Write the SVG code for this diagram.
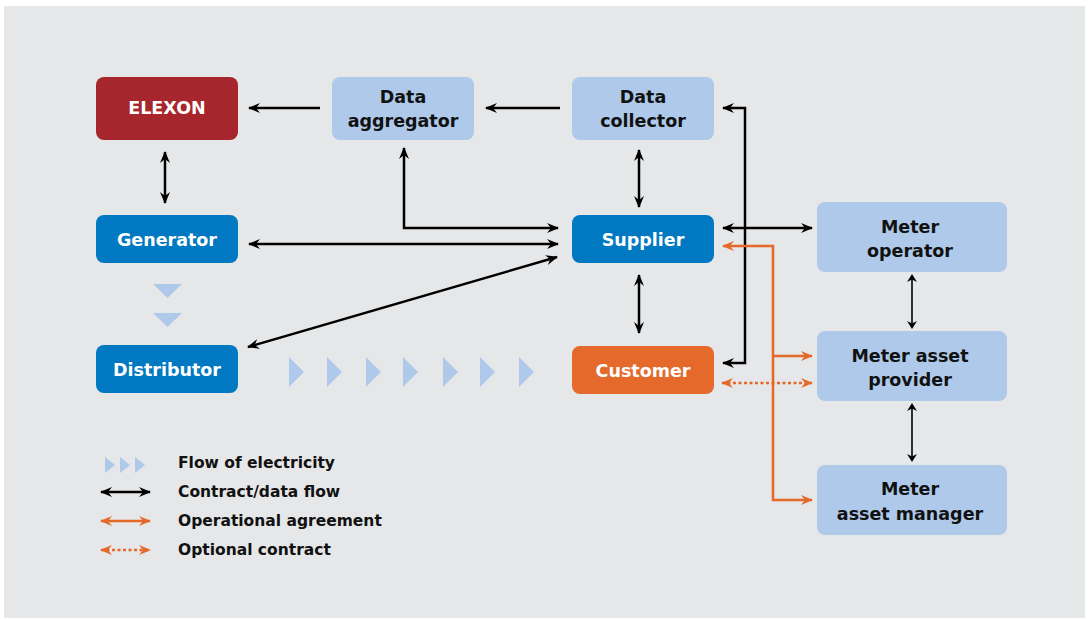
<svg xmlns="http://www.w3.org/2000/svg" width="1089" height="619" viewBox="0 0 1089 619">
<style>
.t{font-family:"DejaVu Sans",Verdana,sans-serif;font-weight:bold;font-size:17.5px;text-anchor:middle}
.w{fill:#ffffff}
.k{fill:#111111}
.lg{font-family:"DejaVu Sans",Verdana,sans-serif;font-weight:bold;font-size:15.5px;fill:#111111}
.blk{fill:none;stroke:#000;stroke-width:2.5}
.thin{fill:none;stroke:#000;stroke-width:1.6}
.org{fill:none;stroke:#e4692a;stroke-width:2.5}
.dot{fill:none;stroke:#e4692a;stroke-width:2.5;stroke-dasharray:3 2.5}
.flow{fill:#aec9ea}
</style>
<defs>
<marker id="ak" viewBox="0 0 12 10" refX="11" refY="5" markerWidth="12" markerHeight="10" markerUnits="userSpaceOnUse" orient="auto-start-reverse"><path d="M0,0 L12,5 L0,10 L4,5 z" fill="#000"/></marker>
<marker id="aks" viewBox="0 0 8 10" refX="4" refY="5" markerWidth="8" markerHeight="10" markerUnits="userSpaceOnUse" orient="auto-start-reverse"><path d="M0,0 L8,5 L0,10 L2.5,5 z" fill="#000"/></marker>
<marker id="ao" viewBox="0 0 12 10" refX="11" refY="5" markerWidth="12" markerHeight="10" markerUnits="userSpaceOnUse" orient="auto-start-reverse"><path d="M0,0 L12,5 L0,10 L4,5 z" fill="#e4692a"/></marker>
</defs>
<rect x="4" y="6" width="1081" height="612" fill="#e6e7e8"/>

<g id="flow">
<polygon class="flow" points="153,284 182,284 167.5,298"/>
<polygon class="flow" points="153,313 182,313 167.5,327"/>
<polygon class="flow" points="289,357 304,372 289,387"/>
<polygon class="flow" points="327,357 342,372 327,387"/>
<polygon class="flow" points="366,357 381,372 366,387"/>
<polygon class="flow" points="403,357 418,372 403,387"/>
<polygon class="flow" points="443,357 458,372 443,387"/>
<polygon class="flow" points="480,357 495,372 480,387"/>
<polygon class="flow" points="519,357 534,372 519,387"/>
</g>

<g id="connectors">
<line class="blk" x1="320" y1="108" x2="249" y2="108" marker-end="url(#ak)"/>
<line class="blk" x1="560" y1="108" x2="486" y2="108" marker-end="url(#ak)"/>
<line class="blk" x1="165" y1="152" x2="165" y2="203" marker-start="url(#ak)" marker-end="url(#ak)"/>
<line class="blk" x1="639" y1="150" x2="639" y2="207" marker-start="url(#ak)" marker-end="url(#ak)"/>
<line class="blk" x1="639" y1="275" x2="639" y2="333" marker-start="url(#ak)" marker-end="url(#ak)"/>
<polyline class="blk" points="404,148 404,228 558,228" marker-start="url(#ak)" marker-end="url(#ak)"/>
<line class="blk" x1="249" y1="244" x2="558" y2="244" marker-start="url(#ak)" marker-end="url(#ak)"/>
<line class="blk" x1="557" y1="257" x2="248" y2="347" marker-start="url(#ak)" marker-end="url(#ak)"/>
<polyline class="blk" points="723,108 745,108 745,363 723,363" marker-start="url(#ak)" marker-end="url(#ak)"/>
<line class="blk" x1="723" y1="228" x2="812" y2="228" marker-start="url(#ak)" marker-end="url(#ak)"/>
<polyline class="org" points="723,246 773,246 773,500 812,500" marker-start="url(#ao)" marker-end="url(#ao)"/>
<line class="org" x1="773" y1="356" x2="812" y2="356" marker-end="url(#ao)"/>
<line class="dot" x1="722" y1="383" x2="812" y2="383" marker-start="url(#ao)" marker-end="url(#ao)"/>
<line class="thin" x1="912" y1="278" x2="912" y2="325" marker-start="url(#aks)" marker-end="url(#aks)"/>
<line class="thin" x1="912" y1="407" x2="912" y2="458" marker-start="url(#aks)" marker-end="url(#aks)"/>
</g>

<g id="elexon"><rect x="96" y="77" width="142" height="63" rx="8" fill="#a7262d"/><text class="t w" x="167" y="114">ELEXON</text></g>
<g id="data-aggregator"><rect x="332" y="77" width="142" height="63" rx="8" fill="#aec9ea"/><text class="t k" x="403" y="103">Data</text><text class="t k" x="403" y="127">aggregator</text></g>
<g id="data-collector"><rect x="572" y="77" width="142" height="63" rx="8" fill="#aec9ea"/><text class="t k" x="643" y="103">Data</text><text class="t k" x="643" y="127">collector</text></g>
<g id="generator"><rect x="96" y="215" width="142" height="48" rx="8" fill="#0079c2"/><text class="t w" x="167" y="246">Generator</text></g>
<g id="supplier"><rect x="572" y="215" width="142" height="48" rx="8" fill="#0079c2"/><text class="t w" x="643" y="246">Supplier</text></g>
<g id="distributor"><rect x="96" y="345" width="142" height="48" rx="8" fill="#0079c2"/><text class="t w" x="167" y="376">Distributor</text></g>
<g id="customer"><rect x="572" y="346" width="142" height="48" rx="8" fill="#e4692a"/><text class="t w" x="643" y="377">Customer</text></g>
<g id="meter-operator"><rect x="817" y="202" width="190" height="70" rx="8" fill="#aec9ea"/><text class="t k" x="910" y="233">Meter</text><text class="t k" x="910" y="257">operator</text></g>
<g id="meter-asset-provider"><rect x="817" y="331" width="190" height="70" rx="8" fill="#aec9ea"/><text class="t k" x="910" y="362">Meter asset</text><text class="t k" x="910" y="386">provider</text></g>
<g id="meter-asset-manager"><rect x="817" y="465" width="190" height="70" rx="8" fill="#aec9ea"/><text class="t k" x="910" y="495">Meter</text><text class="t k" x="910" y="520">asset manager</text></g>

<g id="legend">
<polygon class="flow" points="105,457 115,465 105,473"/>
<polygon class="flow" points="120,457 130,465 120,473"/>
<polygon class="flow" points="135,457 145,465 135,473"/>
<line class="blk" x1="101" y1="492" x2="150" y2="492" marker-start="url(#ak)" marker-end="url(#ak)"/>
<line class="org" x1="101" y1="521" x2="150" y2="521" marker-start="url(#ao)" marker-end="url(#ao)"/>
<line class="dot" x1="101" y1="550" x2="150" y2="550" marker-start="url(#ao)" marker-end="url(#ao)"/>
<text class="lg" x="178" y="468">Flow of electricity</text>
<text class="lg" x="178" y="497">Contract/data flow</text>
<text class="lg" x="178" y="526">Operational agreement</text>
<text class="lg" x="178" y="555">Optional contract</text>
</g>
</svg>
